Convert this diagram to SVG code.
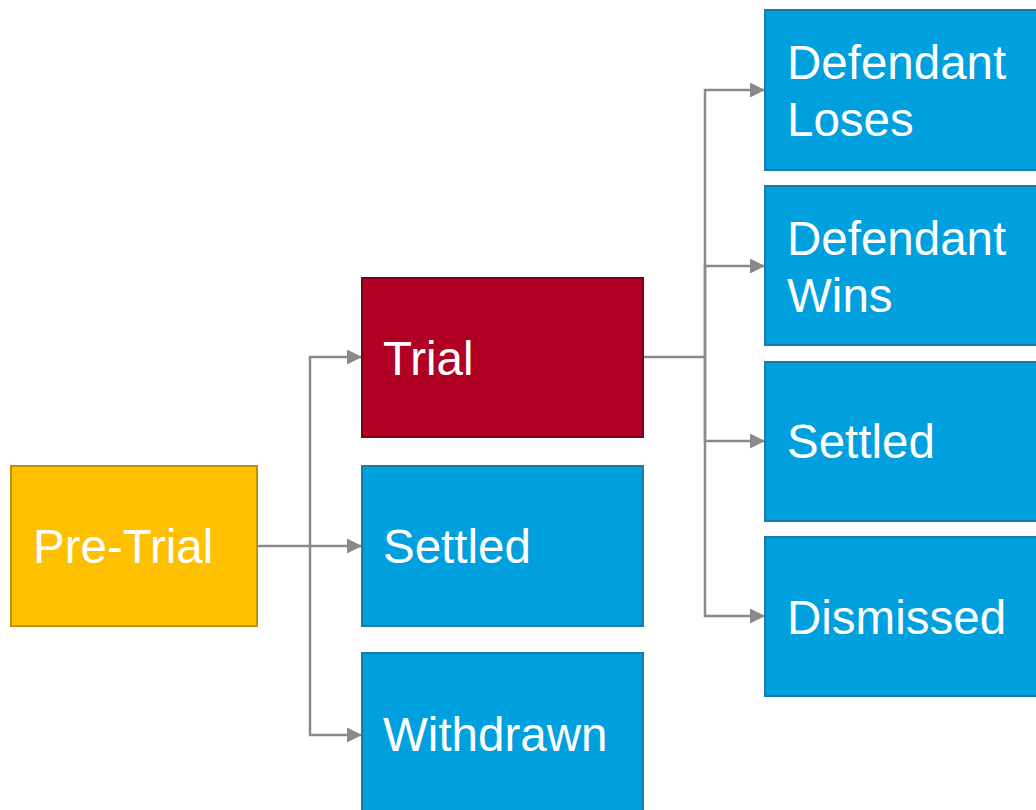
<svg xmlns="http://www.w3.org/2000/svg" width="1036" height="810" viewBox="0 0 1036 810">
<style>
.blue{fill:#00A0DF;stroke:#1C7AA6;stroke-width:2}
.red{fill:#B00024;stroke:#7E0018;stroke-width:2}
.gold{fill:#FFC000;stroke:#BF9000;stroke-width:2}
.lbl{font-family:"Liberation Sans",Arial,sans-serif;font-size:47.5px;fill:#FFFFFF}
.con{fill:none;stroke:#8A8A8A;stroke-width:2.5}
</style>
<defs>
<marker id="arr" viewBox="0 0 10 10" refX="10" refY="5" markerWidth="6" markerHeight="6" markerUnits="strokeWidth" orient="auto">
<path d="M0,0 L10,5 L0,10 z" fill="#8A8A8A"/>
</marker>
</defs>
<g id="connectors">
<path class="con" d="M257,546 H362" marker-end="url(#arr)"/>
<path class="con" d="M310,546 V357 H362" marker-end="url(#arr)"/>
<path class="con" d="M310,546 V735 H362" marker-end="url(#arr)"/>
<path class="con" d="M643,357 H705 V90 H765" marker-end="url(#arr)"/>
<path class="con" d="M705,357 V266 H765" marker-end="url(#arr)"/>
<path class="con" d="M705,357 V441 H765" marker-end="url(#arr)"/>
<path class="con" d="M705,357 V616 H765" marker-end="url(#arr)"/>
</g>
<g id="pretrial"><rect class="gold" x="11" y="466" width="246" height="160"/><text class="lbl" x="33" y="563">Pre-Trial</text></g>
<g id="trial"><rect class="red" x="362" y="278" width="281" height="159"/><text class="lbl" x="383" y="375">Trial</text></g>
<g id="settled1"><rect class="blue" x="362" y="466" width="281" height="160"/><text class="lbl" x="383" y="563">Settled</text></g>
<g id="withdrawn"><rect class="blue" x="362" y="653" width="281" height="170"/><text class="lbl" x="383" y="751">Withdrawn</text></g>
<g id="loses"><rect class="blue" x="765" y="10" width="290" height="160"/><text class="lbl" x="787" y="79">Defendant</text><text class="lbl" x="787" y="136">Loses</text></g>
<g id="wins"><rect class="blue" x="765" y="186" width="290" height="159"/><text class="lbl" x="787" y="255">Defendant</text><text class="lbl" x="787" y="312">Wins</text></g>
<g id="settled2"><rect class="blue" x="765" y="362" width="290" height="159"/><text class="lbl" x="787" y="458">Settled</text></g>
<g id="dismissed"><rect class="blue" x="765" y="537" width="290" height="159"/><text class="lbl" x="787" y="634">Dismissed</text></g>
</svg>
